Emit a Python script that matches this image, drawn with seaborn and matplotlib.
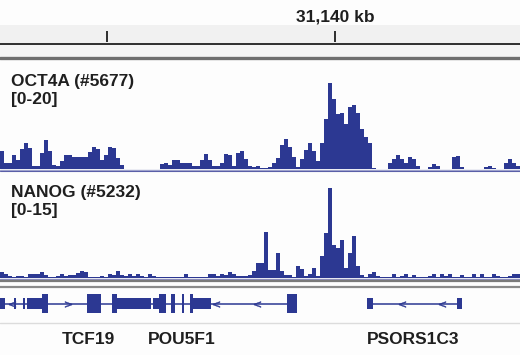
import numpy as np
import pandas as pd
import seaborn as sns
import matplotlib.pyplot as plt
from matplotlib.lines import Line2D

# View window (kb) and ruler
VIEW_START = 31125.31
VIEW_END = 31148.11
RULER_TICKS = [31130, 31140]
RULER_LABEL_POS = 31140
RULER_LABEL = "31,140 kb"

# ChIP-seq signal, one value per bin across the window
OCT4A = [3.3, 1.1, 1.1, 2.6, 1.7, 3.7, 4.8, 3.9, 0.6, 0.6,
         2.9, 5.3, 3.3, 0.7, 0.6, 1.5, 2.6, 2.6, 2.2, 2.2,
         2.2, 2.2, 3.1, 4.0, 3.7, 1.7, 2.6, 4.0, 3.9, 2.0,
         0.7, 0.0, 0.0, 0.0, 0.0, 0.0, 0.0, 0.0, 0.0, 0.0,
         0.9, 1.1, 0.7, 1.7, 1.7, 1.1, 1.1, 1.1, 0.6, 0.6,
         1.7, 2.8, 1.7, 0.6, 0.6, 1.1, 2.8, 2.6, 0.6, 2.9,
         3.3, 1.8, 0.6, 0.4, 0.6, 0.2, 0.2, 0.4, 1.1, 2.0,
         4.4, 5.5, 4.0, 2.2, 0.4, 1.8, 3.5, 4.8, 3.3, 1.5,
         4.8, 9.2, 15.8, 12.8, 10.1, 10.3, 8.3, 11.4, 11.7, 10.3,
         7.3, 5.9, 4.8, 0.2, 0.0, 0.0, 0.0, 1.1, 1.8, 2.6,
         1.8, 1.1, 2.2, 1.8, 0.6, 0.0, 0.0, 0.4, 0.9, 0.6,
         0.0, 0.0, 0.0, 2.2, 2.4, 0.4, 0.0, 0.0, 0.0, 0.0,
         0.0, 0.4, 0.6, 0.2, 0.0, 0.0, 1.1, 1.8, 1.1, 0.6]
NANOG = [0.8, 0.6, 0.3, 0.1, 0.3, 0.3, 0.1, 0.6, 0.6, 0.6,
         0.8, 0.4, 0.1, 0.1, 0.3, 0.6, 0.3, 0.4, 0.4, 0.7,
         1.0, 0.8, 0.1, 0.1, 0.1, 0.3, 0.1, 0.6, 0.4, 1.0,
         0.4, 0.3, 0.6, 0.3, 0.6, 0.3, 0.1, 0.6, 0.3, 0.1,
         0.1, 0.1, 0.1, 0.1, 0.1, 0.1, 0.6, 0.1, 0.1, 0.1,
         0.1, 0.1, 0.6, 0.6, 0.3, 0.6, 0.4, 0.8, 0.6, 0.3,
         0.3, 0.3, 0.4, 1.0, 2.1, 2.1, 6.4, 1.1, 1.1, 3.5,
         1.0, 0.4, 0.4, 0.1, 1.7, 1.3, 0.3, 0.6, 1.4, 0.3,
         3.1, 6.3, 12.6, 4.6, 4.2, 5.3, 1.4, 3.5, 5.9, 1.7,
         0.4, 0.1, 0.6, 0.8, 0.3, 0.1, 0.1, 0.1, 0.6, 0.1,
         0.3, 0.6, 0.1, 0.4, 0.1, 0.1, 0.1, 0.3, 0.6, 0.1,
         0.6, 0.3, 0.6, 0.1, 0.1, 0.4, 0.1, 0.1, 0.6, 0.1,
         0.6, 0.1, 0.1, 0.6, 0.3, 0.1, 0.1, 0.3, 0.6, 0.6]
TRACK_NAMES = ["OCT4A (#5677)", "NANOG (#5232)"]
TRACK_RANGES = [20, 15]

# Gene annotation (kb)
EXON_START = [31125.31, 31125.92, 31126.32, 31126.49, 31126.62, 31127.15,
              31129.12, 31130.22, 31130.44, 31132.02, 31132.28, 31132.81,
              31133.29, 31133.64, 31133.77, 31137.90, 31141.40, 31145.35]
EXON_END = [31125.53, 31126.01, 31126.40, 31126.62, 31127.15, 31127.41,
            31129.74, 31130.44, 31131.93, 31132.28, 31132.59, 31132.98,
            31133.38, 31133.77, 31134.56, 31138.33, 31141.67, 31145.57]
EXON_KIND = ["utr", "utr", "utr", "utr", "utr", "cds",
             "cds", "cds", "utr", "utr", "cds", "cds",
             "cds", "cds", "utr", "cds", "utr", "utr"]
INTRON_START = [31125.31, 31141.40]
INTRON_END = [31138.33, 31145.57]
ARROW_POS = [31125.83, 31128.29, 31134.78, 31136.58, 31142.94, 31144.69]
ARROW_DIR = ["<", ">", "<", "<", "<", "<"]
GENE_NAMES = ["TCF19", "POU5F1", "PSORS1C3"]
GENE_LABEL_POS = [31129.17, 31133.29, 31143.42]

BLUE = "#2c3892"
TEXT = "#1f1f1f"
FS = 12.5
W, H = 520, 355

sns.set_theme(style="white")
plt.rcParams['font.family'] = ['Liberation Sans', 'DejaVu Sans']

fig = plt.figure(figsize=(W / 100, H / 100), dpi=100)
fig.patch.set_facecolor("#fdfdfd")


def px_axes(top, bottom):
    return fig.add_axes([0, 1 - bottom / H, 1, (bottom - top) / H])


def hline(y, color, lw):
    fig.add_artist(Line2D([0, 1], [1 - y / H] * 2, color=color, lw=lw))


# light bands behind the ruler
for top, bottom, col in [(25, 43, "#f1f1f1"), (44, 57, "#f5f5f5")]:
    band = px_axes(top, bottom)
    band.set_axis_off()
    band.add_patch(plt.Rectangle((0, 0), 1, 1, color=col, transform=band.transAxes))

# ruler
ax_r = px_axes(25, 43)
ax_r.set_xlim(VIEW_START, VIEW_END)
ax_r.set_ylim(0, 1)
ax_r.vlines(RULER_TICKS, 0.06, 0.67, color=TEXT, lw=1.3)
ax_r.text(RULER_LABEL_POS, 1.0, RULER_LABEL, ha="center", va="bottom",
          fontsize=FS, fontweight="bold", color=TEXT,
          transform=ax_r.get_xaxis_transform())
ax_r.set_axis_off()
hline(43.5, TEXT, 1.3)
hline(58, "#6f6f6f", 2.4)

# signal tracks
edges = np.linspace(VIEW_START, VIEW_END, len(OCT4A) + 1)
centers = (edges[:-1] + edges[1:]) / 2
tracks = [(OCT4A, 60, 169), (NANOG, 171, 278)]
for (vals, top, bottom), name, rng in zip(tracks, TRACK_NAMES, TRACK_RANGES):
    ax = px_axes(top, bottom)
    df = pd.DataFrame({"pos": centers, "signal": vals})
    sns.histplot(data=df, x="pos", weights="signal", bins=edges.tolist(),
                 element="step", fill=True, color=BLUE, alpha=1,
                 linewidth=0, ax=ax)
    ax.set_xlim(VIEW_START, VIEW_END)
    ax.set_ylim(0, rng)
    ax.set_axis_off()
    fig.text(11 / W, 1 - (top + 26) / H, name, fontsize=FS, fontweight="bold",
             color=TEXT, va="baseline")
    fig.text(11 / W, 1 - (top + 44) / H, f"[0-{rng}]", fontsize=FS,
             fontweight="bold", color=TEXT, va="baseline")

hline(169.5, "#a4a7cf", 1)
hline(170.8, "#5a5fa8", 0.8)
hline(279, "#8c8fbf", 1)
hline(281, "#7a7a7a", 1.6)
hline(286.5, "#8a8a8a", 1.6)
hline(322.5, "#dcdcdc", 1)

# gene track
ax_g = px_axes(288, 322)
ax_g.set_xlim(VIEW_START, VIEW_END)
ax_g.set_ylim(-18.3, 15.7)
ax_g.hlines([0] * len(INTRON_START), INTRON_START, INTRON_END, color=BLUE, lw=1.1)
half = {"cds": 9.5, "utr": 5.5}
for s, e, k in zip(EXON_START, EXON_END, EXON_KIND):
    ax_g.bar(s, 2 * half[k], width=e - s, bottom=-half[k], align="edge",
             color=BLUE, linewidth=0)
for p, d in zip(ARROW_POS, ARROW_DIR):
    ax_g.plot(p, 0, marker="$" + d + "$", color=BLUE, markersize=5, mew=0.3)
ax_g.set_axis_off()
for name, pos in zip(GENE_NAMES, GENE_LABEL_POS):
    ax_g.text(pos, (322 - 344) / 34, name, ha="center", va="baseline",
              fontsize=FS, fontweight="bold", color=TEXT,
              transform=ax_g.get_xaxis_transform())

plt.savefig("out.png", dpi=100, facecolor=fig.get_facecolor())
